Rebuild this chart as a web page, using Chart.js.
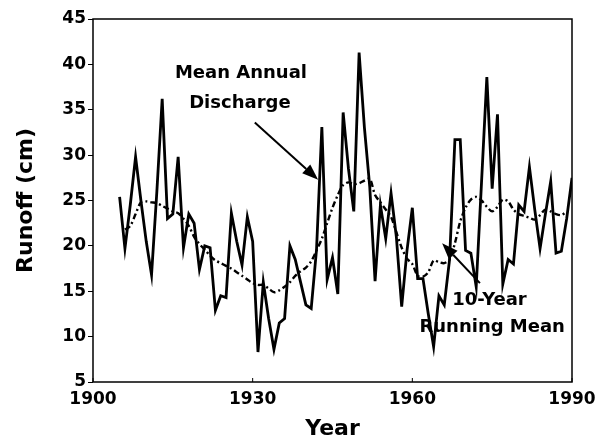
<!DOCTYPE html>
<html>
<head>
<meta charset="utf-8">
<script src="https://cdn.jsdelivr.net/npm/chart.js@4.4.1/dist/chart.umd.min.js"></script>
<style>
  html, body { margin: 0; padding: 0; background: #fff; }
  #wrap { width: 598px; height: 442px; }
</style>
</head>
<body>
<div id="wrap"><canvas id="runoffChart"></canvas></div>
<script>
// annual runoff
const years = [];
for (let y = 1905; y <= 1990; y++) years.push(y);

const annualRunoff = [
  25.4, 19.7, 24.5, 29.8, 25.0, 20.5, 16.8, 26.0, 36.2, 23.0,   // 1905-1914
  23.5, 29.8, 19.8, 23.5, 22.5, 17.4, 20.0, 19.8, 12.9, 14.5,   // 1915-1924
  14.3, 23.6, 20.5, 17.9, 23.2, 20.5, 8.3, 16.0, 12.0, 8.6,     // 1925-1934
  11.5, 12.0, 20.0, 18.5, 16.0, 13.5, 13.1, 19.6, 33.1, 16.3,   // 1935-1944
  18.7, 14.7, 34.7, 28.5, 23.8, 41.3, 33.0, 26.5, 16.1, 24.5,   // 1945-1954
  20.8, 25.8, 21.0, 13.3, 19.5, 24.2, 16.4, 16.4, 12.5, 8.9,    // 1955-1964
  14.5, 13.5, 18.5, 31.7, 31.7, 19.5, 19.2, 15.5, 27.0, 38.6,   // 1965-1974
  26.3, 34.5, 15.8, 18.5, 18.0, 24.5, 23.8, 28.7, 24.0, 19.7,   // 1975-1984
  23.5, 27.1, 19.2, 19.4, 23.0, 27.5                            // 1985-1990
];

// 10-year running mean as drawn (1906-1989)
const meanYears = [];
for (let y = 1906; y <= 1989; y++) meanYears.push(y);

const runningMean = [
  21.8, 22.2, 23.5, 24.8, 24.9, 24.8, 24.7, 24.4, 24.1, 23.8,   // 1906-1915
  23.6, 23.0, 22.2, 21.0, 20.2, 19.6, 18.9, 18.4, 18.1, 17.8,   // 1916-1925
  17.5, 17.1, 16.7, 16.3, 15.9, 15.7, 15.7, 15.3, 14.9, 15.1,   // 1926-1935
  15.5, 16.0, 16.7, 17.2, 17.6, 18.3, 19.5, 20.8, 22.5, 24.2,   // 1936-1945
  25.6, 26.7, 27.0, 26.8, 26.9, 27.2, 27.4, 25.6, 24.8, 24.0,   // 1946-1955
  23.2, 21.5, 19.8, 18.6, 18.0, 16.7, 16.6, 17.1, 18.4, 18.2,   // 1956-1965
  18.1, 18.5, 20.3, 22.7, 24.2, 25.1, 25.4, 25.0, 24.3, 23.8,   // 1966-1975
  24.3, 25.1, 24.9, 24.0, 23.5, 23.3, 23.1, 22.9, 23.4, 24.0,   // 1976-1985
  23.8, 23.5, 23.4, 23.8                                        // 1986-1989
];

const xTicks = [1900, 1930, 1960, 1990];
const yTicks = [5, 10, 15, 20, 25, 30, 35, 40, 45];

// callout labels and arrows, in data units
const labelText = ["Mean Annual", "Discharge", "10-Year", "Running Mean"];
const labelX = [1927.8, 1927.6, 1974.5, 1975.0];
const labelY = [39.0, 35.7, 14.0, 11.0];
const arrowFrom = [[1930.4, 33.6], [1972.7, 15.9]];
const arrowTo = [[1942.3, 27.3], [1965.6, 20.3]];

const FONT = "'DejaVu Sans', Verdana, sans-serif";

const framePlugin = {
  id: "frame",
  afterDatasetsDraw(chart) {
    const { ctx, chartArea: a, scales } = chart;
    ctx.save();
    ctx.strokeStyle = "#000";
    ctx.lineWidth = 1.5;
    ctx.strokeRect(a.left, a.top, a.right - a.left, a.bottom - a.top);

    // small inward ticks on the bottom axis
    ctx.lineWidth = 1;
    xTicks.forEach(v => {
      const px = scales.x.getPixelForValue(v);
      ctx.beginPath();
      ctx.moveTo(px, a.bottom);
      ctx.lineTo(px, a.bottom - 4);
      ctx.stroke();
    });

    // text labels
    ctx.fillStyle = "#000";
    ctx.font = "bold 18px " + FONT;
    ctx.textAlign = "center";
    ctx.textBaseline = "middle";
    labelText.forEach((t, i) => {
      ctx.fillText(t, scales.x.getPixelForValue(labelX[i]), scales.y.getPixelForValue(labelY[i]));
    });

    // arrows
    ctx.lineWidth = 2;
    arrowFrom.forEach((f, i) => {
      const x1 = scales.x.getPixelForValue(f[0]), y1 = scales.y.getPixelForValue(f[1]);
      const x2 = scales.x.getPixelForValue(arrowTo[i][0]), y2 = scales.y.getPixelForValue(arrowTo[i][1]);
      const ang = Math.atan2(y2 - y1, x2 - x1);
      const hl = 16, hw = 6;
      const bx = x2 - hl * Math.cos(ang), by = y2 - hl * Math.sin(ang);
      ctx.beginPath();
      ctx.moveTo(x1, y1);
      ctx.lineTo(bx, by);
      ctx.stroke();
      ctx.beginPath();
      ctx.moveTo(x2, y2);
      ctx.lineTo(bx + hw * Math.sin(ang), by - hw * Math.cos(ang));
      ctx.lineTo(bx - hw * Math.sin(ang), by + hw * Math.cos(ang));
      ctx.closePath();
      ctx.fill();
    });
    ctx.restore();
  }
};

const ctx = document.getElementById("runoffChart").getContext("2d");
new Chart(ctx, {
  type: "line",
  data: {
    datasets: [
      {
        label: "Mean Annual Discharge",
        data: years.map((y, i) => ({ x: y, y: annualRunoff[i] })),
        borderColor: "#000",
        borderWidth: 2.8,
        pointRadius: 0,
        tension: 0,
        borderJoinStyle: "miter"
      },
      {
        label: "10-Year Running Mean",
        data: meanYears.map((y, i) => ({ x: y, y: runningMean[i] })),
        borderColor: "#000",
        borderWidth: 2.4,
        borderDash: [6, 3, 2, 3],
        pointRadius: 0,
        tension: 0.3
      }
    ]
  },
  options: {
    responsive: true,
    maintainAspectRatio: false,
    animation: false,
    layout: { padding: { left: 0, right: 26, top: 19, bottom: 0 } },
    plugins: {
      legend: { display: false },
      tooltip: { enabled: false }
    },
    scales: {
      x: {
        type: "linear",
        min: 1900,
        max: 1990,
        afterBuildTicks: s => { s.ticks = xTicks.map(v => ({ value: v })); },
        afterFit: s => { s.height = 60; s.paddingLeft = 0; s.paddingRight = 0; },
        grid: { display: false, drawTicks: false },
        border: { display: false },
        ticks: {
          color: "#000",
          padding: 7,
          font: { family: FONT, size: 17, weight: "bold" },
          maxRotation: 0,
          callback: v => String(v)
        },
        title: {
          display: true,
          text: "Year",
          color: "#000",
          padding: { top: 3, bottom: 0 },
          font: { family: FONT, size: 22, weight: "bold" }
        }
      },
      y: {
        min: 5,
        max: 45,
        afterBuildTicks: s => { s.ticks = yTicks.map(v => ({ value: v })); },
        afterFit: s => { s.width = 93; },
        grid: { drawOnChartArea: false, tickLength: 5, color: "#000" },
        border: { display: false },
        ticks: {
          color: "#000",
          padding: 2,
          font: { family: FONT, size: 17, weight: "bold" }
        },
        title: {
          display: true,
          text: "Runoff (cm)",
          color: "#000",
          padding: { top: 13, bottom: 0 },
          font: { family: FONT, size: 22, weight: "bold" }
        }
      }
    }
  },
  plugins: [framePlugin]
});
</script>
</body>
</html>
